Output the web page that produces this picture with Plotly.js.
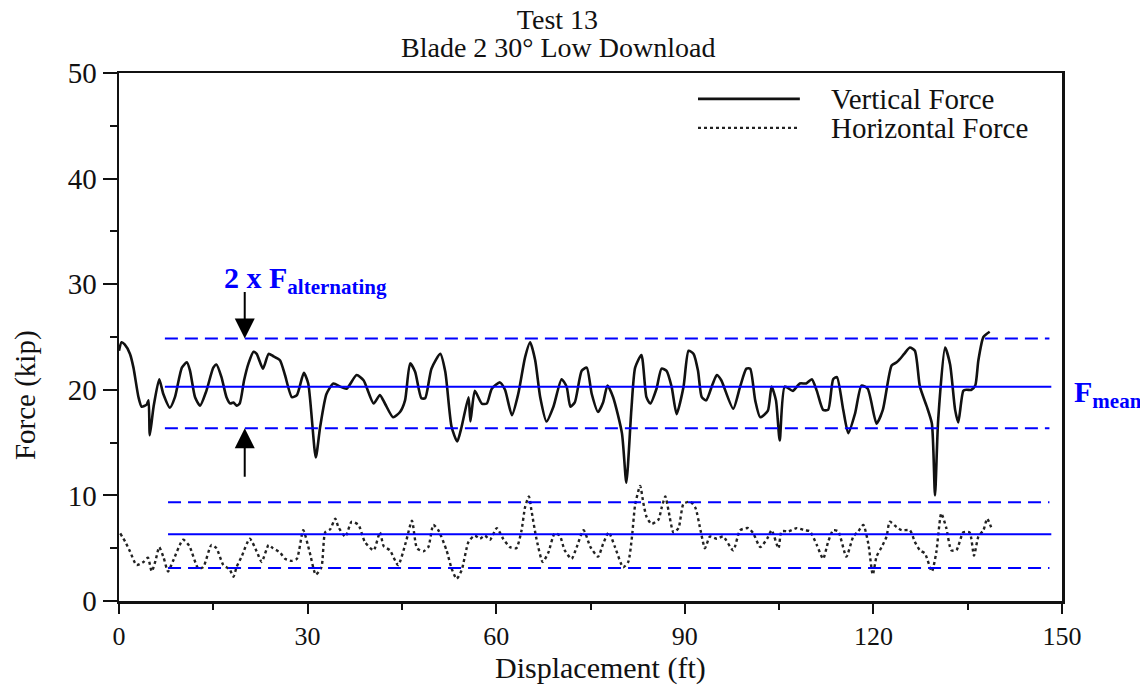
<!DOCTYPE html>
<html>
<head>
<meta charset="utf-8">
<script src="https://cdn.plot.ly/plotly-3.0.1.min.js"></script>
<style>html,body{margin:0;padding:0;background:#fff;}#chart{width:1140px;height:688px;}</style>
</head>
<body>
<div id="chart"></div>
<script>
// Vertical force (kip) vs displacement (ft)
const vertX = [0,0.4,0.9,1.75,2.3,3.1,3.6,4.4,4.7,4.9,5.5,6.4,7.05,8.1,8.9,10.0,10.8,11.3,12.1,12.9,13.9,15.0,15.5,16.3,17.1,17.7,18.2,18.7,19.2,19.9,20.6,21.4,21.9,22.9,23.8,24.5,25.6,26.4,27.5,28.3,29.4,30.1,31.3,32.0,33.0,34.1,35.2,36.2,37.8,38.9,40.5,41.5,42.3,43.6,44.7,45.5,46.3,47.1,48.1,48.7,49.7,51.1,51.9,52.9,53.8,54.5,55.6,55.9,56.6,57.7,58.5,59.3,60.6,61.4,62.5,63.5,64.6,65.4,66.2,67.0,68.0,69.1,70.4,71.2,71.8,72.5,73.6,74.4,75.2,76.2,77.0,77.7,78.6,80.0,80.7,81.5,82.1,83.1,83.9,84.5,85.5,86.3,87.1,87.9,88.7,89.8,90.6,91.4,92.1,92.7,93.4,94.4,95.1,95.8,97.7,98.8,99.8,100.4,101.2,102.0,103.2,103.8,104.5,105.1,105.9,107.2,108.3,109.3,110.2,111.0,112.0,112.8,113.6,114.2,115.2,116.0,117.1,118.1,119.1,120.5,121.5,122.9,123.7,124.2,124.9,125.8,126.6,127.4,128.5,129.3,129.8,130.3,131.4,132.2,133.0,133.5,134.3,134.8,135.6,136.2,136.7,137.5,138.5];
const vertY = [23.7,24.5,24.3,23.4,22.1,19.3,18.4,18.6,19.0,15.7,18.4,21.0,19.6,18.3,19.3,22.1,22.6,21.8,19.3,18.5,19.9,22.1,22.4,21.2,19.3,18.7,18.8,18.5,18.7,20.9,22.5,23.6,23.4,22.0,23.4,23.2,22.8,21.4,19.3,19.5,21.6,20.6,13.6,16.5,19.6,20.6,20.3,20.1,21.4,20.9,18.7,19.5,18.7,17.4,17.9,19.0,22.5,21.7,19.2,19.2,22.0,23.4,21.7,16.5,15.1,16.5,19.3,17.0,19.9,18.7,18.7,20.1,20.7,20.0,17.6,19.6,23.1,24.5,22.8,19.3,17.0,18.4,21.0,20.3,18.4,18.8,21.8,22.1,19.6,17.9,18.8,20.4,19.3,15.9,11.2,18.1,22.1,23.3,19.3,18.7,20.1,22.0,21.8,20.3,17.7,20.3,23.7,23.4,21.8,19.3,19.0,20.5,21.4,20.9,18.2,20.3,22.0,22.0,19.0,17.4,18.0,20.3,19.0,15.2,20.3,19.9,20.6,20.6,21.0,19.9,18.1,18.1,21.0,21.2,18.1,15.9,17.8,20.4,20.1,16.8,18.1,22.3,22.6,22.9,23.4,24.0,23.7,20.3,18.4,16.8,10.0,17.1,24.0,22.4,18.1,16.9,19.9,20.0,20.0,20.4,22.8,25.0,25.5];

// Horizontal force (kip) vs displacement (ft)
const horzX = [0.2,1.0,1.75,2.8,3.9,4.6,5.2,5.8,6.4,7.1,7.8,8.6,10.2,11.2,12.6,13.4,14.7,15.5,16.6,17.6,18.2,18.7,19.5,20.8,21.9,22.7,23.8,24.5,25.6,26.4,27.5,28.3,29.3,30.3,31.3,32.2,32.8,33.6,34.4,34.9,36.0,37.0,38.1,39.1,40.5,41.5,42.1,43.1,44.4,45.6,46.6,47.4,48.4,49.2,50.0,50.8,52.1,52.9,53.7,54.5,55.6,56.6,57.4,58.2,59.0,60.1,61.1,62.2,63.2,64.0,64.6,65.2,65.6,66.4,67.4,68.3,69.3,70.1,70.9,72.0,72.8,73.9,75.0,76.2,77.0,77.9,78.9,80.2,81.0,81.6,82.1,82.9,83.4,83.9,84.7,85.8,86.3,86.9,87.4,88.2,89.0,89.8,90.9,91.7,92.5,93.2,94.0,95.1,96.1,97.7,98.8,100.1,100.9,102.0,103.1,103.8,104.9,105.4,106.5,107.8,109.1,109.9,111.0,112.0,112.8,113.6,114.4,115.7,116.8,117.6,118.4,119.2,119.9,120.5,121.3,122.1,122.6,123.7,124.5,125.8,126.6,127.4,128.2,129.3,130.0,130.8,131.6,132.4,133.2,134.3,135.3,136.0,136.7,137.5,138.1,138.9];
const horzY = [6.4,5.6,4.7,3.4,3.7,4.1,2.8,3.8,5.1,4.1,2.8,3.8,5.8,5.2,3.1,3.2,5.3,5.0,3.4,3.0,2.3,3.2,4.2,5.9,4.7,3.7,5.3,5.0,4.6,4.0,3.8,4.0,6.7,4.7,2.5,3.2,6.5,6.8,7.8,7.0,6.1,7.5,7.2,5.6,4.8,6.5,5.2,4.8,3.4,5.5,7.6,5.0,4.7,5.1,7.2,6.7,4.8,3.1,2.1,2.9,5.6,6.2,5.9,6.2,5.8,6.9,5.9,5.1,5.0,6.6,8.9,9.9,8.6,5.9,3.7,4.6,6.4,6.2,4.8,4.0,5.1,6.7,5.1,4.2,5.4,6.5,5.1,3.2,3.7,6.1,9.1,10.9,9.3,8.0,7.3,7.7,8.8,9.9,8.6,6.5,6.9,9.2,9.4,8.8,6.7,5.0,6.1,5.9,6.1,4.8,6.7,6.9,6.4,5.1,5.9,6.7,5.0,6.6,6.6,6.9,6.7,6.6,5.3,4.0,5.6,6.7,6.6,4.2,6.1,6.6,7.2,5.4,2.5,4.2,5.1,6.1,7.5,7.0,6.7,6.7,5.6,4.8,4.5,2.8,4.6,8.3,6.9,4.8,4.8,6.5,6.5,4.3,6.1,6.7,7.8,6.7];

// Annotated levels (kip): mean, upper and lower alternating bounds
const seriesNames = ['Vertical Force', 'Horizontal Force'];
const meanLevels = [20.3, 6.33];
const upperLevels = [24.86, 9.36];
const lowerLevels = [16.35, 3.12];
const levelStartX = [7.3, 7.8];
const levelEndX = 148;

const xTicks = [0, 30, 60, 90, 120, 150];
const yTicks = [0, 10, 20, 30, 40, 50];
const titleLines = ['Test 13', 'Blade 2 30° Low Download'];

const serif = 'Liberation Serif, Times New Roman, serif';
const blue = '#0000ff';
const ink = '#111';

const traces = [
  {x: vertX, y: vertY, type: 'scatter', mode: 'lines', name: seriesNames[0],
   line: {color: ink, width: 2.6, shape: 'spline', smoothing: 0.6}, showlegend: false},
  {x: horzX, y: horzY, type: 'scatter', mode: 'lines', name: seriesNames[1],
   line: {color: '#222', width: 2.4, dash: 'dot', shape: 'spline', smoothing: 0.6}, showlegend: false}
];

const shapes = [];
for (let i = 0; i < meanLevels.length; i++) {
  shapes.push({type: 'line', xref: 'x', yref: 'y', x0: levelStartX[i], x1: levelEndX + 0.3, y0: meanLevels[i], y1: meanLevels[i],
    line: {color: blue, width: 2}});
  shapes.push({type: 'line', xref: 'x', yref: 'y', x0: levelStartX[i], x1: levelEndX, y0: upperLevels[i], y1: upperLevels[i],
    line: {color: blue, width: 2, dash: '13px,7px'}});
  shapes.push({type: 'line', xref: 'x', yref: 'y', x0: levelStartX[i], x1: levelEndX, y0: lowerLevels[i], y1: lowerLevels[i],
    line: {color: blue, width: 2, dash: '13px,7px'}});
}
// legend samples
shapes.push({type: 'line', xref: 'paper', yref: 'paper', x0: 0.614, x1: 0.722, y0: 0.951, y1: 0.951, line: {color: ink, width: 2.6}});
shapes.push({type: 'line', xref: 'paper', yref: 'paper', x0: 0.614, x1: 0.722, y0: 0.896, y1: 0.896, line: {color: '#222', width: 2.2, dash: 'dot'}});

const annotations = [
  {xref: 'paper', yref: 'paper', x: 0.466, y: 1.0, yshift: 26, xanchor: 'center', yanchor: 'middle', showarrow: false,
   text: titleLines[1], font: {family: serif, size: 28, color: ink}},
  {xref: 'paper', yref: 'paper', x: 0.753, y: 0.951, xanchor: 'left', yanchor: 'middle', showarrow: false,
   text: seriesNames[0], font: {family: serif, size: 29, color: ink}},
  {xref: 'paper', yref: 'paper', x: 0.753, y: 0.896, xanchor: 'left', yanchor: 'middle', showarrow: false,
   text: seriesNames[1], font: {family: serif, size: 29, color: ink}},
  {xref: 'paper', yref: 'paper', x: -0.0997, y: 0.39, xanchor: 'center', yanchor: 'middle', textangle: -90, showarrow: false,
   text: 'Force (kip)', font: {family: serif, size: 29, color: ink}},
  {xref: 'paper', yref: 'paper', x: 0.511, y: -0.127, xanchor: 'center', yanchor: 'middle', showarrow: false,
   text: 'Displacement (ft)', font: {family: serif, size: 30, color: ink}},
  {xref: 'x', yref: 'y', x: 16.4, y: 30.4, xanchor: 'left', yanchor: 'middle', showarrow: false,
   text: '<b>2 x F<sub>alternating</sub></b>', font: {family: serif, size: 30, color: blue}},
  {xref: 'paper', yref: 'y', x: 1.0106, y: 19.6, xanchor: 'left', yanchor: 'middle', showarrow: false,
   text: '<b>F<sub>mean</sub></b>', font: {family: serif, size: 30, color: blue}},
  {xref: 'x', yref: 'y', x: 20.0, y: upperLevels[0], ax: 0, ay: -48, text: '', showarrow: true,
   arrowhead: 2, arrowsize: 2, arrowwidth: 2, arrowcolor: '#000'},
  {xref: 'x', yref: 'y', x: 20.0, y: lowerLevels[0], ax: 0, ay: 50, text: '', showarrow: true,
   arrowhead: 2, arrowsize: 2, arrowwidth: 2, arrowcolor: '#000'}
];

const layout = {
  width: 1140, height: 688,
  paper_bgcolor: '#fff', plot_bgcolor: '#fff',
  margin: {l: 119, r: 78, t: 73, b: 87, pad: 0},
  font: {family: serif, size: 22, color: ink},
  showlegend: false,
  title: {text: titleLines[0], xref: 'container', x: 0.489, xanchor: 'center',
          yref: 'container', y: 1 - 19 / 688, yanchor: 'middle', font: {family: serif, size: 28, color: ink}},
  xaxis: {range: [0, 150], tickvals: xTicks, ticktext: xTicks.map(String), showgrid: false, zeroline: false,
          showline: true, mirror: true, linecolor: ink, linewidth: 2.5,
          ticks: 'outside', ticklen: 10, tickwidth: 2, tickcolor: ink,
          minor: {dtick: 15, tick0: 0, ticks: 'outside', ticklen: 6, tickwidth: 2, tickcolor: ink},
          tickfont: {family: serif, size: 26, color: ink}, fixedrange: true},
  yaxis: {range: [0, 50], tickvals: yTicks, ticktext: yTicks.map(String), showgrid: false, zeroline: false,
          showline: true, mirror: true, linecolor: ink, linewidth: 2.5,
          ticks: 'outside', ticklen: 14, tickwidth: 2, tickcolor: ink,
          minor: {dtick: 5, tick0: 0, ticks: 'outside', ticklen: 7, tickwidth: 2, tickcolor: ink},
          tickfont: {family: serif, size: 29, color: ink}, fixedrange: true},
  shapes: shapes,
  annotations: annotations
};

Plotly.newPlot('chart', traces, layout, {staticPlot: true, displayModeBar: false});
</script>
</body>
</html>
